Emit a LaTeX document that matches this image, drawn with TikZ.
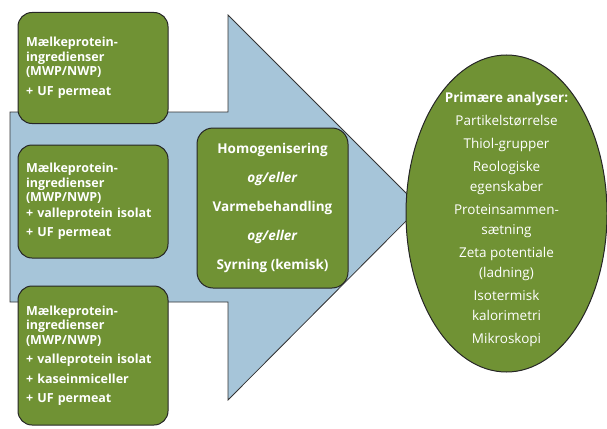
\documentclass[tikz,border=0pt]{standalone}
\usepackage{fontspec}
\setmainfont{Open Sans}
\usetikzlibrary{shapes.geometric}

\definecolor{boxgreen}{RGB}{112,146,52}
\definecolor{arrowblue}{RGB}{166,197,217}

\tikzset{
  ingrbox/.style={draw=black!85, line width=1pt, fill=boxgreen, rounded corners=14pt,
    minimum width=150pt, text width=134pt, align=left, text=white,
    font=\bfseries\fontsize{12.5}{14.5}\selectfont},
  procbox/.style={draw=black!85, line width=1pt, fill=boxgreen, rounded corners=16pt,
    minimum width=151pt, minimum height=160pt, align=center, text=white,
    font=\bfseries\fontsize{13.5}{29}\selectfont},
}

\begin{document}
\begin{tikzpicture}[x=1pt,y=-1pt]
  \useasboundingbox (0,0) rectangle (607,428);
  % the big arrow (tip hidden behind the ellipse)
  \draw[fill=arrowblue, draw=black!80, line width=0.8pt] (10,112) -- (228,112) -- (228,15) -- (420,207)
      -- (228,400) -- (228,302) -- (10,302) -- cycle;

  \node[ingrbox, minimum height=111pt] (mix1) at (93,68)
      {Mælkeprotein-\\ingredienser\\(MWP/NWP)\\[5pt]+ UF permeat};
  \node[ingrbox, minimum height=113pt] (mix2) at (93,201.5)
      {Mælkeprotein-\\ingredienser\\(MWP/NWP)\\[1pt]+ valleprotein isolat\\[5pt]+ UF permeat};
  \node[ingrbox, minimum height=139pt] (mix3) at (93,355.5)
      {Mælkeprotein-\\ingredienser\\(MWP/NWP)\\[5pt]+ valleprotein isolat\\[5pt]+ kaseinmiceller\\[5pt]+ UF permeat};

  \node[procbox] (behandling) at (272.5,208)
      {Homogenisering\\\textit{og/eller}\\Varmebehandling\\\textit{og/eller}\\Syrning (kemisk)};

  \node[ellipse, draw=black!85, line width=1pt, fill=boxgreen, minimum width=201pt,
      minimum height=317pt, inner sep=0pt] (analyser) at (506.5,213.5) {};
  \node[text=white, align=center, font=\fontsize{13.5}{20}\selectfont] (analysetekst)
      at ([yshift=-6pt]analyser.center)
      {\textbf{Primære analyser:}\\[3pt]Partikelstørrelse\\[3pt]Thiol-grupper\\[3pt]Reologiske\\egenskaber\\[3pt]
       Proteinsammen-\\sætning\\[3pt]Zeta potentiale\\(ladning)\\[3pt]Isotermisk\\kalorimetri\\[3pt]Mikroskopi};
\end{tikzpicture}
\end{document}
